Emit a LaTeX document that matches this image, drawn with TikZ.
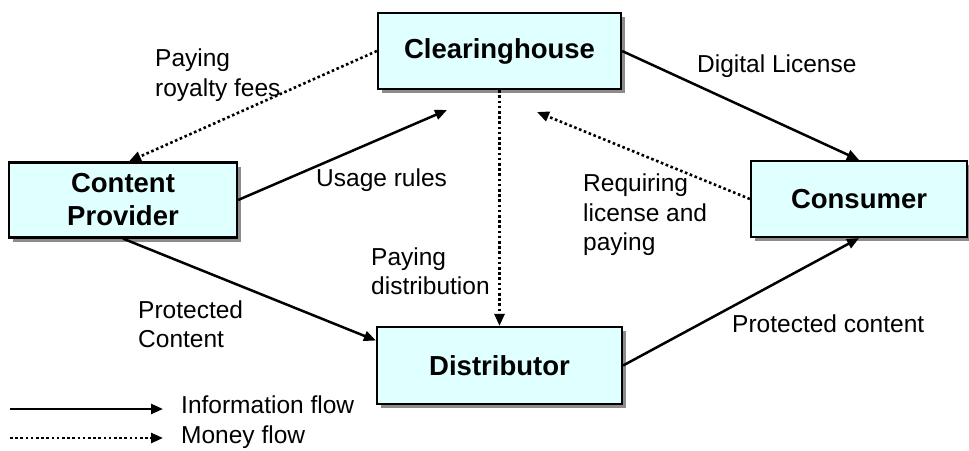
\documentclass[tikz,border=0pt]{standalone}
\usepackage{fontspec}
\setmainfont{Liberation Sans}
\usetikzlibrary{arrows.meta,shadows,calc}
\definecolor{boxfill}{RGB}{224,255,255}
\begin{document}
\begin{tikzpicture}[x=1pt,y=-1pt,
  entity/.style={draw=black, line width=2.2pt, fill=boxfill,
    font=\fontsize{27.5}{33}\selectfont\bfseries, align=center, inner sep=0pt,
    drop shadow={shadow xshift=4pt, shadow yshift=-4pt, fill=black!45, opacity=1}},
  info/.style={line width=2.5pt, -{Triangle[length=12pt,width=10pt]}},
  money/.style={line width=2.6pt, dash pattern=on 2.6pt off 2.6pt, -{Triangle[length=12pt,width=10pt]}},
  lbl/.style={font=\fontsize{24.5}{29.5}\selectfont, align=left, anchor=west, inner sep=0pt}]
\useasboundingbox[fill=white] (0,0) rectangle (969,450);

\node[entity, minimum width=243pt, minimum height=76pt] (clear) at (499.5,51) {Clearinghouse};
\node[entity, minimum width=228pt, minimum height=75pt] (cp) at (123,200) {Content\\Provider};
\node[entity, minimum width=216pt, minimum height=76pt] (cons) at (859,199) {Consumer};
\node[entity, minimum width=245pt, minimum height=77pt] (dist) at (499.5,365.5) {Distributor};

\coordinate (usageEnd) at (447,110);
\coordinate (reqEnd) at (537,112);

\draw[info] (clear.east) -- (cons.north);
\draw[info] (dist.east) -- (cons.south);
\draw[info] (cp.east) -- (usageEnd);
\draw[info] (cp.south) -- ($(dist.west)+(0,-25)$);
\draw[money] (clear.west) -- ($(cp.north)+(6,0)$);
\draw[money] (cons.west) -- (reqEnd);
\draw[money] (clear.south) -- (dist.north);

\node[lbl] (royal) at (155,75) {Paying\\royalty fees};
\node[lbl] (usage) at (316,180) {Usage rules};
\node[lbl] (digi) at (697,66) {Digital License};
\node[lbl] (req) at (583,215) {Requiring\\license and\\paying};
\node[lbl] (paydist) at (371,271) {Paying\\distribution};
\node[lbl] (prot) at (138,324) {Protected\\Content};
\node[lbl] (protc) at (732,324) {Protected content};

\coordinate (legA) at (10,409);
\coordinate (legAe) at (163,409);
\coordinate (legB) at (10,438);
\coordinate (legBe) at (163,438);
\draw[info] (legA) -- (legAe);
\draw[money] (legB) -- (legBe);
\node[lbl] (infoT) at (181,405) {Information flow};
\node[lbl] (monT) at (181,437) {Money flow};
\end{tikzpicture}
\end{document}
